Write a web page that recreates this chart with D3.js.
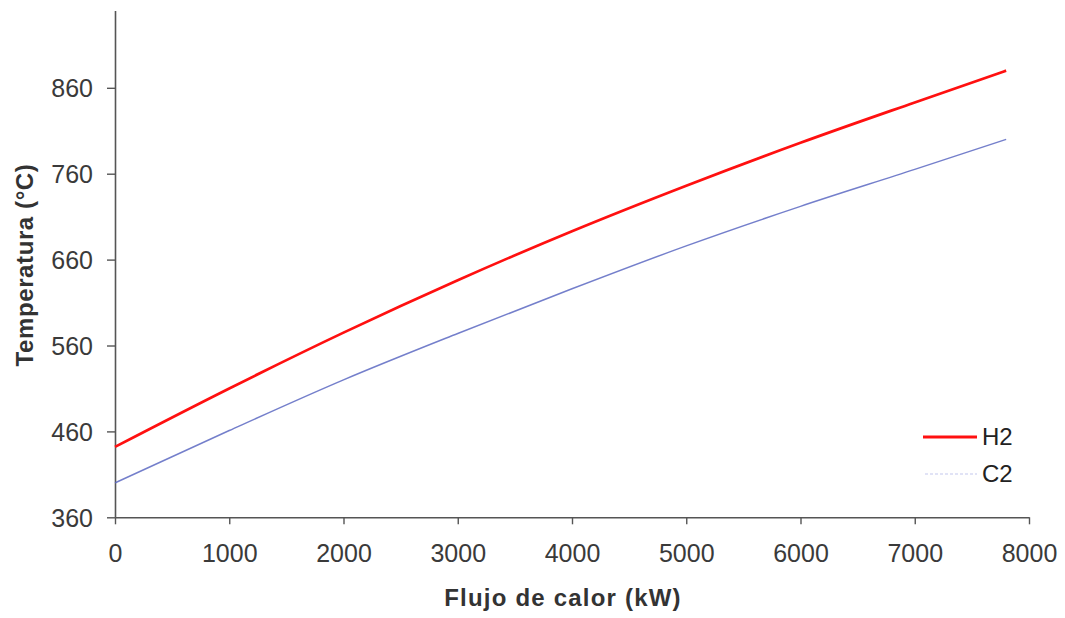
<!DOCTYPE html>
<html>
<head>
<meta charset="utf-8">
<script src="https://cdn.jsdelivr.net/npm/d3@7"></script>
<style>
  body { margin: 0; background: #fff; }
  text { font-family: "Liberation Sans", Arial, sans-serif; }
</style>
</head>
<body>
<div id="chart"></div>
<script>
// Data
var heatFlow = [0, 1000, 2000, 3000, 4000, 5000, 6000, 7000, 7800];
var tempH2 = [442, 510, 575, 636, 693, 746, 796, 843, 880];
var tempC2 = [400, 461, 520, 574, 626, 676, 722, 765, 800];
var yTicks = [360, 460, 560, 660, 760, 860];
var xTicks = [0, 1000, 2000, 3000, 4000, 5000, 6000, 7000, 8000];

var svgWidth = 1065;
var svgHeight = 618;

var svg = d3.select("#chart")
  .append("svg")
  .attr("width", svgWidth)
  .attr("height", svgHeight);

var xScale = d3.scaleLinear()
  .domain([0, 8000])
  .range([115, 1029]);

var yScale = d3.scaleLinear()
  .domain([360, 950])
  .range([517.3, 10.5]);

// Axes
var bottomAxis = d3.axisBottom(xScale)
  .tickValues(xTicks)
  .tickSize(7)
  .tickSizeOuter(0)
  .tickPadding(20)
  .tickFormat(d3.format("d"));

var leftAxis = d3.axisLeft(yScale)
  .tickValues(yTicks)
  .tickSize(8)
  .tickSizeOuter(0)
  .tickPadding(14);

var xg = svg.append("g")
  .attr("transform", `translate(0, ${yScale(360)})`)
  .call(bottomAxis);

var yg = svg.append("g")
  .attr("transform", `translate(${xScale(0)}, 0)`)
  .call(leftAxis);

[xg, yg].forEach(function(g) {
  g.select(".domain").attr("stroke", "#555").attr("stroke-width", 1.6);
  g.selectAll(".tick line").attr("stroke", "#555").attr("stroke-width", 1.4);
  g.selectAll(".tick text")
    .attr("fill", "#3a3a3a")
    .style("font-size", "25px");
});
yg.selectAll(".tick text").attr("dy", "0.35em");

// Axis titles
svg.append("text")
  .attr("transform", "translate(33, 265) rotate(-90)")
  .attr("text-anchor", "middle")
  .style("font-size", "24px")
  .style("font-weight", "bold")
  .style("letter-spacing", "0.6px")
  .attr("fill", "#333")
  .text("Temperatura (°C)");

svg.append("text")
  .attr("x", 563)
  .attr("y", 606)
  .attr("text-anchor", "middle")
  .style("font-size", "24px")
  .style("font-weight", "bold")
  .style("letter-spacing", "1.2px")
  .attr("fill", "#333")
  .text("Flujo de calor (kW)");

// Lines
var line = d3.line()
  .x((d, i) => xScale(heatFlow[i]))
  .y(d => yScale(d))
  .curve(d3.curveMonotoneX);

svg.append("path")
  .datum(tempC2)
  .attr("fill", "none")
  .attr("stroke", "#5c69c2")
  .attr("stroke-opacity", 0.85)
  .attr("stroke-width", 1.5)
  .attr("d", line);

svg.append("path")
  .datum(tempH2)
  .attr("fill", "none")
  .attr("stroke", "#ff1010")
  .attr("stroke-width", 2.7)
  .attr("d", line);

// Legend
var legend = svg.append("g");
legend.append("line")
  .attr("x1", 923).attr("x2", 977)
  .attr("y1", 437).attr("y2", 437)
  .attr("stroke", "#ff1010")
  .attr("stroke-width", 3);
legend.append("text")
  .attr("x", 982).attr("y", 437)
  .attr("dy", "0.35em")
  .style("font-size", "24px")
  .attr("fill", "#222")
  .text("H2");
legend.append("line")
  .attr("x1", 925).attr("x2", 977)
  .attr("y1", 474).attr("y2", 474)
  .attr("stroke", "#c3c8ee")
  .attr("stroke-width", 1.2)
  .attr("stroke-dasharray", "3,2");
legend.append("text")
  .attr("x", 982).attr("y", 474)
  .attr("dy", "0.35em")
  .style("font-size", "24px")
  .attr("fill", "#222")
  .text("C2");
</script>
</body>
</html>
